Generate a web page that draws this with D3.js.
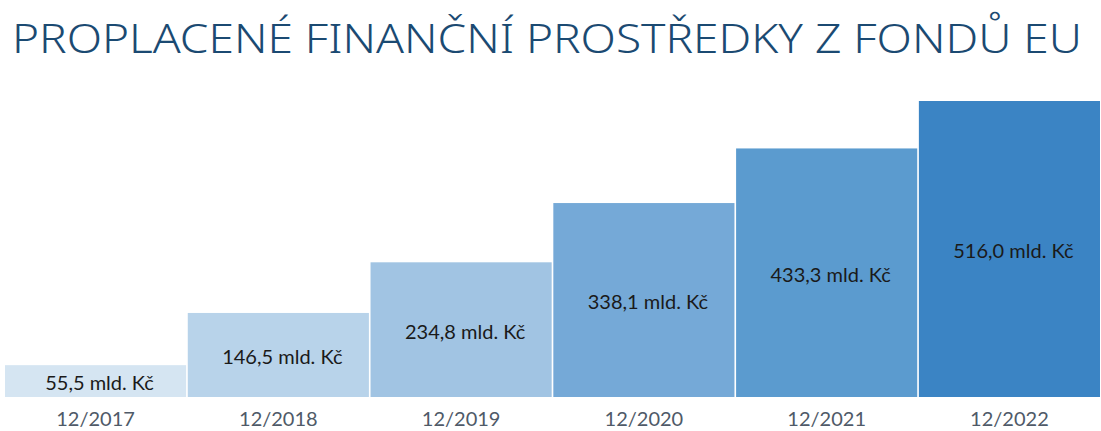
<!DOCTYPE html>
<html>
<head>
<meta charset="utf-8">
<script src="https://cdn.jsdelivr.net/npm/d3@7"></script>
<style>
  html, body { margin: 0; padding: 0; background: #ffffff; }
  svg { display: block; }
</style>
</head>
<body>
<svg id="chart" width="1101" height="431"></svg>
<script>
const titleText = "PROPLACENÉ FINANČNÍ PROSTŘEDKY Z FONDŮ EU";
const categories = ["12/2017", "12/2018", "12/2019", "12/2020", "12/2021", "12/2022"];
const values = [55.5, 146.5, 234.8, 338.1, 433.3, 516.0];
const valueLabels = ["55,5 mld. Kč", "146,5 mld. Kč", "234,8 mld. Kč", "338,1 mld. Kč", "433,3 mld. Kč", "516,0 mld. Kč"];
const colors = ["#d5e5f2", "#b8d3ea", "#a1c4e3", "#75a9d7", "#5b9bcf", "#3b84c4"];

const svg = d3.select("#chart");

svg.append("text")
  .attr("x", 12)
  .attr("y", 53)
  .attr("font-family", "'Noto Sans', sans-serif")
  .attr("font-size", 41)
  .attr("font-weight", 300)
  .attr("fill", "#1b4a72")
  .attr("textLength", 1070)
  .attr("lengthAdjust", "spacingAndGlyphs")
  .text(titleText);

const x = d3.scaleBand()
  .domain(categories)
  .range([5, 1100])
  .paddingInner(0.009)
  .paddingOuter(0);

const y = d3.scaleLinear()
  .domain([0, d3.max(values)])
  .range([397, 101]);

const data = categories.map((c, i) => ({ cat: c, value: values[i], label: valueLabels[i], color: colors[i] }));

svg.append("g")
  .selectAll("rect")
  .data(data)
  .join("rect")
  .attr("x", d => x(d.cat))
  .attr("y", d => y(d.value))
  .attr("width", x.bandwidth())
  .attr("height", d => y(0) - y(d.value))
  .attr("fill", d => d.color);

svg.append("g")
  .selectAll("text")
  .data(data)
  .join("text")
  .attr("x", d => x(d.cat) + x.bandwidth() / 2 + 4)
  .attr("y", d => (y(0) + y(d.value)) / 2 + 2)
  .attr("dy", "0.35em")
  .attr("text-anchor", "middle")
  .attr("font-family", "Lato, sans-serif")
  .attr("font-size", 20)
  .attr("fill", "#1a1a1a")
  .text(d => d.label);

const axis = svg.append("g")
  .attr("transform", `translate(0, ${y(0)})`)
  .call(d3.axisBottom(x).tickSize(0).tickPadding(15));
axis.select(".domain").remove();
axis.selectAll("text")
  .attr("font-family", "Lato, sans-serif")
  .attr("font-size", 20)
  .attr("fill", "#4f5a68");
</script>
</body>
</html>
